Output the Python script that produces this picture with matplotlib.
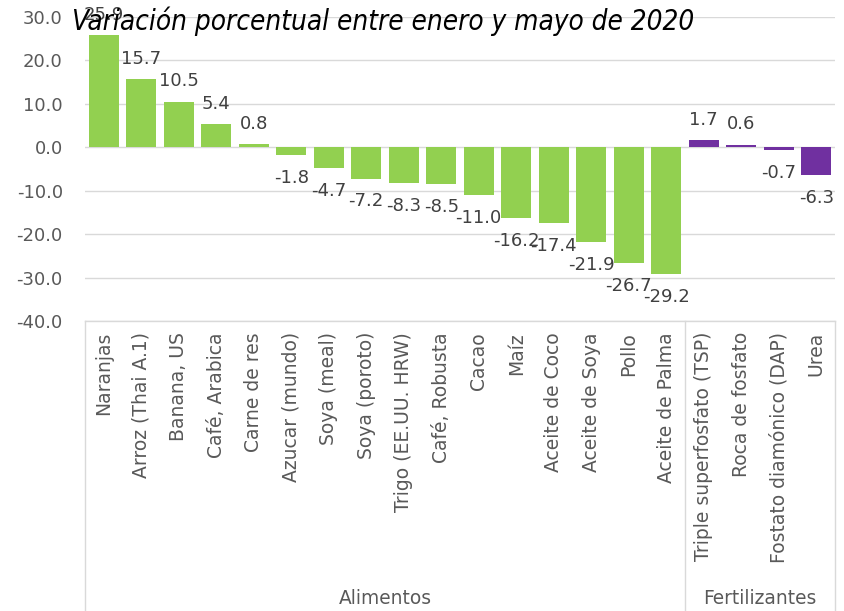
import matplotlib
matplotlib.use("Agg")
import matplotlib.pyplot as plt
import matplotlib.transforms as mtransforms
from matplotlib import font_manager
import numpy as np

# data
alimentos = ["Naranjas", "Arroz (Thai A.1)", "Banana, US", "Café, Arabica", "Carne de res",
             "Azucar (mundo)", "Soya (meal)", "Soya (poroto)", "Trigo (EE.UU. HRW)",
             "Café, Robusta", "Cacao", "Maíz", "Aceite de Coco", "Aceite de Soya",
             "Pollo", "Aceite de Palma"]
alimentos_val = [25.9, 15.7, 10.5, 5.4, 0.8, -1.8, -4.7, -7.2, -8.3, -8.5, -11.0,
                 -16.2, -17.4, -21.9, -26.7, -29.2]
fertilizantes = ["Triple superfosfato (TSP)", "Roca de fosfato", "Fostato diamónico (DAP)", "Urea"]
fertilizantes_val = [1.7, 0.6, -0.7, -6.3]
grupos = ["Alimentos", "Fertilizantes"]
yticks = [30, 20, 10, 0, -10, -20, -30, -40]

titulo = "Variación porcentual entre enero y mayo de 2020"

verde = "#92D050"
morado = "#7030A0"

labels = alimentos + fertilizantes
values = alimentos_val + fertilizantes_val
colors = [verde] * len(alimentos) + [morado] * len(fertilizantes)
x = np.arange(len(labels))

plt.rcParams["font.family"] = ["DejaVu Sans"]

fig = plt.figure(figsize=(8.45, 6.11), dpi=100)
ax = fig.add_axes([85 / 845, 1 - 321 / 611, 750 / 845, 304 / 611])

ax.bar(x, values, width=0.8, color=colors, zorder=3)
ax.set_xlim(-0.5, len(labels) - 0.5)
ax.set_ylim(-40, 30)
ax.set_yticks(yticks)
ax.set_yticklabels([f"{v:.1f}" for v in yticks])
ax.yaxis.grid(True, color="#D9D9D9", linewidth=1.0, zorder=0)
ax.set_axisbelow(True)
for s in ax.spines.values():
    s.set_visible(False)
ax.tick_params(axis="y", length=0, labelsize=13, labelcolor="#595959", pad=16)
ax.tick_params(axis="x", length=0, labelsize=13.5, labelcolor="#595959", pad=8)
ax.set_xticks(x)
ax.set_xticklabels(labels, rotation=90, va="top", ha="center")

# data labels
for xi, v in zip(x, values):
    if v >= 0:
        ax.annotate(f"{v:.1f}", (xi, v), xytext=(0, 11), textcoords="offset points",
                    ha="center", va="baseline", fontsize=13, color="#404040", zorder=4)
    else:
        ax.annotate(f"{v:.1f}", (xi, v), xytext=(0, -10), textcoords="offset points",
                    ha="center", va="top", fontsize=13, color="#404040", zorder=4)

# multi-level category box
trans = mtransforms.blended_transform_factory(ax.transData, fig.transFigure)
y_top = 1 - 321 / 611
n1 = len(alimentos)
for xb in [-0.5, n1 - 0.5, len(labels) - 0.5]:
    ax.plot([xb, xb], [y_top, 0], color="#D9D9D9", linewidth=1.0,
            transform=trans, clip_on=False)
ax.plot([-0.5, len(labels) - 0.5], [y_top, y_top], color="#D9D9D9", linewidth=1.0,
        transform=trans, clip_on=False)

ax.text((n1 - 1) / 2, 1 - 598 / 611, grupos[0], transform=trans, ha="center",
        va="center", fontsize=13.4, color="#595959")
ax.text(n1 + (len(fertilizantes) - 1) / 2, 1 - 598 / 611, grupos[1], transform=trans,
        ha="center", va="center", fontsize=13.4, color="#595959")

# title
names = {f.name for f in font_manager.fontManager.ttflist}
if "Liberation Sans Narrow" in names:
    fig.text(383 / 845, 1 - 30 / 611, titulo, ha="center", va="baseline",
             fontsize=24.5, style="italic", family="Liberation Sans Narrow", color="black")
else:
    fig.text(383 / 845, 1 - 30 / 611, titulo, ha="center", va="baseline",
             fontsize=20, style="italic", stretch="condensed", color="black")

fig.savefig("out.png", dpi=100)
